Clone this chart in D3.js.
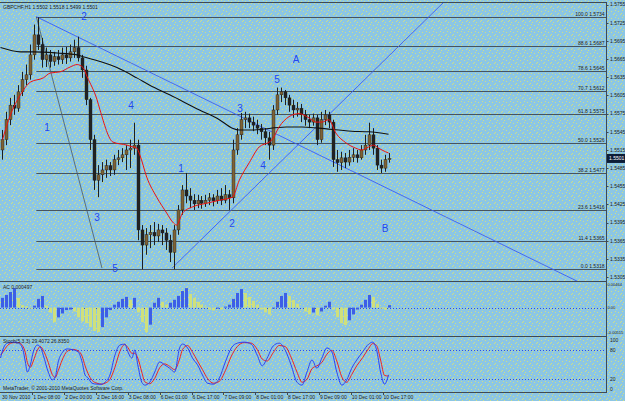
<!DOCTYPE html>
<html>
<head>
<meta charset="utf-8">
<script src="https://d3js.org/d3.v7.min.js"></script>
<style>
body { margin: 0; background: #8cc6e4; }
svg { display: block; }
text { font-family: "Liberation Sans", Arial, sans-serif; }
</style>
</head>
<body>
<div id="chart"></div>
<script>
// GBPCHF H1 - candles at 2-hour resolution
var opens = [1.5515,1.5532,1.5565,1.5589,1.5584,1.5611,1.5631,1.5639,1.5672,1.5705,
    1.5689,1.5664,1.5672,1.5661,1.5669,1.5664,1.5672,1.5667,1.5677,1.5684,
    1.5667,1.5647,1.5598,1.5532,1.5465,1.5474,1.5482,1.5489,1.5482,1.5499,
    1.5502,1.5507,1.5515,1.5518,1.5523,1.5383,1.5358,1.5375,1.5379,1.5373,
    1.5383,1.5378,1.5366,1.5346,1.5383,1.5416,1.5449,1.5439,1.5432,1.5426,
    1.5432,1.5427,1.5432,1.5436,1.5431,1.5439,1.5432,1.5441,1.5436,1.5515,
    1.5540,1.5565,1.5568,1.5561,1.5556,1.5551,1.5545,1.5535,1.5523,1.5581,
    1.5606,1.5611,1.5601,1.5589,1.5581,1.5584,1.5573,1.5565,1.5561,1.5568,
    1.5532,1.5565,1.5573,1.5561,1.5499,1.5494,1.5502,1.5495,1.5503,1.5507,
    1.5502,1.5515,1.5523,1.5540,1.5518,1.5490,1.5485,1.5499];
var highs = [1.5548,1.5578,1.5601,1.5606,1.5622,1.5644,1.5656,1.5689,1.5722,1.5734,
    1.5700,1.5684,1.5680,1.5677,1.5680,1.5684,1.5685,1.5689,1.5697,1.5702,
    1.5672,1.5654,1.5601,1.5540,1.5490,1.5495,1.5499,1.5495,1.5507,1.5515,
    1.5518,1.5523,1.5532,1.5560,1.5532,1.5391,1.5386,1.5391,1.5396,1.5393,
    1.5391,1.5386,1.5375,1.5391,1.5424,1.5457,1.5477,1.5452,1.5442,1.5441,
    1.5439,1.5441,1.5444,1.5442,1.5449,1.5452,1.5457,1.5449,1.5532,1.5551,
    1.5576,1.5578,1.5575,1.5570,1.5565,1.5558,1.5551,1.5545,1.5589,1.5618,
    1.5618,1.5614,1.5606,1.5598,1.5594,1.5591,1.5581,1.5573,1.5575,1.5573,
    1.5578,1.5581,1.5578,1.5565,1.5515,1.5512,1.5510,1.5515,1.5518,1.5515,
    1.5523,1.5540,1.5560,1.5551,1.5523,1.5499,1.5507,1.5510];
var lows = [1.5499,1.5523,1.5556,1.5573,1.5578,1.5604,1.5622,1.5631,1.5664,1.5680,
    1.5651,1.5652,1.5651,1.5654,1.5656,1.5657,1.5657,1.5661,1.5667,1.5661,
    1.5634,1.5589,1.5515,1.5449,1.5437,1.5462,1.5469,1.5472,1.5474,1.5490,
    1.5495,1.5482,1.5485,1.5507,1.5366,1.5318,1.5342,1.5353,1.5358,1.5363,
    1.5358,1.5350,1.5330,1.5318,1.5375,1.5408,1.5427,1.5419,1.5416,1.5419,
    1.5418,1.5421,1.5424,1.5422,1.5426,1.5424,1.5427,1.5416,1.5427,1.5507,
    1.5532,1.5551,1.5551,1.5546,1.5541,1.5532,1.5523,1.5499,1.5515,1.5573,
    1.5594,1.5589,1.5578,1.5568,1.5570,1.5561,1.5555,1.5551,1.5555,1.5523,
    1.5527,1.5556,1.5551,1.5487,1.5479,1.5482,1.5485,1.5489,1.5495,1.5494,
    1.5499,1.5507,1.5515,1.5507,1.5482,1.5477,1.5479,1.5494];
var closes = [1.5532,1.5565,1.5589,1.5584,1.5611,1.5631,1.5639,1.5672,1.5705,1.5689,
    1.5664,1.5672,1.5661,1.5669,1.5664,1.5672,1.5667,1.5677,1.5684,1.5667,
    1.5647,1.5598,1.5532,1.5465,1.5474,1.5482,1.5489,1.5482,1.5499,1.5502,
    1.5507,1.5515,1.5518,1.5523,1.5383,1.5358,1.5375,1.5379,1.5373,1.5383,
    1.5378,1.5366,1.5346,1.5383,1.5416,1.5449,1.5439,1.5432,1.5426,1.5432,
    1.5427,1.5432,1.5436,1.5431,1.5439,1.5432,1.5441,1.5436,1.5515,1.5540,
    1.5565,1.5568,1.5561,1.5556,1.5551,1.5545,1.5535,1.5523,1.5581,1.5606,
    1.5611,1.5601,1.5589,1.5581,1.5584,1.5573,1.5565,1.5561,1.5568,1.5532,
    1.5565,1.5573,1.5561,1.5499,1.5494,1.5502,1.5495,1.5503,1.5507,1.5502,
    1.5515,1.5523,1.5540,1.5518,1.5490,1.5485,1.5499,1.5501];

// moving averages (red fast, black slow), key points: hour index / price
var redHours = [1,5,10,15,21.5,25,30,35,38.5,41.5,43.5,48.5,50,56.5,63.5,66.5,68.5,70,73.5,78.5,
    83.5,86.5,88.5,91.5,96.5,103.5,110,116.5,120,125,130,135,136.5,140,145,150,155,158.5,161.5,165,
    168.5,173.5,178.5,181.5,185,187.5,190,193.5,195];
var redPrices = [1.5532,1.5573,1.5606,1.5627,1.5634,1.5642,1.5644,1.5652,1.5656,1.5651,
    1.5636,1.5598,1.5581,1.5528,1.5523,1.5520,1.5518,1.5507,1.5470,1.5437,
    1.5411,1.5396,1.5391,1.5411,1.5421,1.5427,1.5432,1.5437,1.5465,1.5494,
    1.5520,1.5528,1.5532,1.5553,1.5570,1.5575,1.5568,1.5561,1.5561,1.5565,
    1.5543,1.5527,1.5518,1.5515,1.5520,1.5523,1.5518,1.5512,1.5510];
var blackHours = [0,10,16.5,28.5,38.5,41.5,50,58.5,68.5,75,85,100,110,116.5,120,126.5,143.5,151.5,160,176.5,185,195];
var blackPrices = [1.5684,1.5677,1.5677,1.5675,1.5672,1.5669,1.5661,1.5651,1.5634,1.5622,1.5606,
    1.5581,1.5565,1.5551,1.5548,1.5548,1.5553,1.5553,1.5551,1.5546,1.5545,1.5541];

// fibonacci retracement
var fibLevels = ['0.0','11.4','23.6','38.2','50.0','61.8','70.7','78.6','88.6','100.0'];
var fibPrices = [1.5318,1.5365,1.5416,1.5477,1.5526,1.5575,1.5612,1.5645,1.5687,1.5734];

// wave labels
var waveText = ['2','1','4','3','5','1','2','3','4','5','A','B'];
var waveHours = [42,23.4,65.6,48.5,57.5,90.7,116.3,120.4,131.9,139,148.5,193.2];
var wavePrices = [1.5735,1.5553,1.5589,1.5403,1.5320,1.5485,1.5394,1.5584,1.5489,1.5631,1.5664,1.5386];

// Accelerator oscillator, one value per 2-hour bar
var acValues = [0.0020,0.0026,0.0032,0.0040,0.0020,0.0005,0.0003,-0.0002,0.0004,0.0018,
    0.0024,0.0004,-0.0010,-0.0030,-0.0020,-0.0012,-0.0005,-0.0004,-0.0008,-0.0020,
    -0.0028,-0.0032,-0.0040,-0.0048,-0.0050,-0.0040,-0.0020,-0.0005,0.0006,0.0012,
    0.0018,0.0022,0.0016,0.0020,-0.0010,-0.0030,-0.0050,-0.0035,0.0010,0.0020,
    0.0012,0.0006,0.0010,0.0016,0.0024,0.0034,0.0040,0.0028,0.0020,0.0012,
    0.0006,0.0002,-0.0004,-0.0006,-0.0002,-0.0004,0.0002,0.0006,0.0018,0.0030,
    0.0038,0.0030,0.0022,0.0014,0.0006,-0.0004,-0.0010,-0.0014,-0.0002,0.0012,
    0.0024,0.0030,0.0024,0.0016,0.0008,0.0000,-0.0008,-0.0014,-0.0010,-0.0016,
    -0.0008,0.0004,0.0012,-0.0004,-0.0020,-0.0032,-0.0036,-0.0026,-0.0014,-0.0004,
    0.0006,0.0016,0.0026,0.0022,0.0008,-0.0002,-0.0004,0.000497];

// stochastic key points
var stochHours = [0,1.5,3.5,6.5,9,11,12.5,13.5,15,16.5,18.5,20,21.5,24,26,27.5,29,31,33.5,36.5,
    39,41,42.5,44,46,48.5,51,52.5,55,57.5,60,62.5,64,66,67.5,69,71,72.5,75,77.5,
    80,82.5,85,87.5,90,91.5,94,96.5,99,101.5,104,107,110,113,116,119,122.5,126,129,131.5,
    134,137,140,143,146,149,151.5,154,156.5,159,161.5,164,166.5,169,171.5,174,176.5,179,182,185,
    187,189,191,193,195];
var stochMain = [64,85,95,97,95,85,56,35,50,77,91,87,70,35,19,25,56,75,83,81,
    77,56,29,23,12,10,10,14,29,70,91,93,77,64,81,50,14,8,14,35,
    56,50,43,35,85,93,85,64,50,29,12,10,23,56,85,95,97,93,70,48,
    64,89,95,81,50,14,8,35,60,43,64,85,77,35,8,19,43,60,77,93,
    97,81,35,10,29.4];
var stochSignal = [70,78,90,96,96,90,75,55,45,58,80,88,80,55,30,24,38,60,78,82,
    79,68,48,32,18,12,10,12,20,45,78,92,86,74,74,64,35,15,11,22,
    44,52,47,40,62,82,90,76,58,40,22,12,16,38,68,88,96,95,82,62,
    58,75,90,88,66,35,14,20,42,48,55,72,80,58,25,14,30,48,65,84,
    94,90,60,28,26.8];

// axis labels
var priceTicks = [1.5305,1.5335,1.5365,1.5395,1.5425,1.5455,1.5485,1.5515,1.5545,1.5575,
    1.5605,1.5635,1.5665,1.5695,1.5725,1.5755];
var timeLabels = ['30 Nov 2010','1 Dec 08:00','2 Dec 00:00','2 Dec 16:00','3 Dec 08:00','6 Dec 01:00',
    '6 Dec 17:00','7 Dec 09:00','8 Dec 01:00','8 Dec 17:00','9 Dec 09:00','10 Dec 01:00','10 Dec 17:00'];
var timeHours = [0,16,32,48,64,80,96,112,128,144,160,176,192];
var acTicks = [0.00464, 0, -0.00515];
var acTickText = ['0.00464', '0.00', '-0.00515'];
var stTicks = [100, 80, 20, 0];
var lastPrice = 1.5501;

var W = 625, H = 401;
var axisX = 606.5;
var lineCol = '#3f4a55';
var txtCol = '#1c2228';

var svg = d3.select('#chart').append('svg').attr('width', W).attr('height', H);
var defs = svg.append('defs');

// speckled background
var pat = defs.append('pattern').attr('id', 'dots')
    .attr('width', 7).attr('height', 7).attr('patternUnits', 'userSpaceOnUse');
pat.append('rect').attr('width', 7).attr('height', 7).attr('fill', '#8cc6e4');
[[0, 1], [4, 0], [2, 4], [6, 3], [5, 6]].forEach(function(p) {
    pat.append('rect').attr('x', p[0]).attr('y', p[1]).attr('width', 1).attr('height', 1).attr('fill', '#cfe085');
});
svg.append('rect').attr('width', W).attr('height', H).attr('fill', 'url(#dots)');

defs.append('clipPath').attr('id', 'clipMain').append('rect')
    .attr('x', 0).attr('y', 2.5).attr('width', axisX).attr('height', 279);
defs.append('clipPath').attr('id', 'clipAC').append('rect')
    .attr('x', 0).attr('y', 282).attr('width', axisX).attr('height', 54);
defs.append('clipPath').attr('id', 'clipSt').append('rect')
    .attr('x', 0).attr('y', 337).attr('width', axisX).attr('height', 55);

var x = d3.scaleLinear().domain([0, 100]).range([0.5, 199.5]);
var y = d3.scaleLinear().domain([1.5318, 1.5734]).range([269.3, 17.3]);
var yAC = d3.scaleLinear().domain([-0.00515, 0.00464]).range([332.7, 285]);
var yS = d3.scaleLinear().domain([0, 100]).range([389, 340.7]);

var main = svg.append('g').attr('clip-path', 'url(#clipMain)');

// fibonacci lines
var fibStart = x(18);
main.selectAll('.fib')
    .data(fibPrices)
    .enter()
    .append('line')
    .attr('x1', fibStart).attr('x2', axisX)
    .attr('y1', function(d) { return Math.round(y(d)) + 0.5; })
    .attr('y2', function(d) { return Math.round(y(d)) + 0.5; })
    .attr('stroke', '#47545f').attr('stroke-width', 1);

main.selectAll('.fibtxt')
    .data(fibPrices)
    .enter()
    .append('text')
    .attr('x', axisX - 2)
    .attr('y', function(d) { return Math.round(y(d)) - 1; })
    .attr('text-anchor', 'end')
    .attr('font-size', '5px')
    .attr('fill', txtCol)
    .text(function(d, i) { return fibLevels[i] + '  ' + d.toFixed(4); });

// bid line
main.append('line')
    .attr('x1', 0).attr('x2', axisX)
    .attr('y1', Math.round(y(lastPrice)) + 0.5).attr('y2', Math.round(y(lastPrice)) + 0.5)
    .attr('stroke', '#d6e48c').attr('stroke-width', 1).attr('stroke-dasharray', '1,2')
    .attr('opacity', 0.55);

// trend lines
main.append('line')
    .attr('x1', x(18)).attr('y1', y(1.5735)).attr('x2', x(51)).attr('y2', y(1.5320))
    .attr('stroke', '#4b5763').attr('stroke-width', 0.8);
main.append('line')
    .attr('x1', x(18)).attr('y1', y(1.5735)).attr('x2', x(290)).attr('y2', y(1.5298))
    .attr('stroke', '#3d5cf2').attr('stroke-width', 0.9);
main.append('line')
    .attr('x1', x(86.2)).attr('y1', y(1.5320)).attr('x2', x(224)).attr('y2', y(1.5763))
    .attr('stroke', '#3d5cf2').attr('stroke-width', 0.9);

// candles
var bars = d3.range(closes.length);
var cx = function(i) { return Math.round(x(2 * i + 1)) + 0.5; };
main.selectAll('.wick')
    .data(bars)
    .enter()
    .append('line')
    .attr('x1', cx).attr('x2', cx)
    .attr('y1', function(i) { return y(highs[i]); })
    .attr('y2', function(i) { return y(lows[i]); })
    .attr('stroke', '#1d1f1f').attr('stroke-width', 1);
main.selectAll('.body')
    .data(bars)
    .enter()
    .append('rect')
    .attr('x', function(i) { return cx(i) - 1.5; })
    .attr('width', 3)
    .attr('y', function(i) { return y(Math.max(opens[i], closes[i])); })
    .attr('height', function(i) { return Math.max(1, Math.abs(y(opens[i]) - y(closes[i]))); })
    .attr('fill', function(i) { return closes[i] >= opens[i] ? '#7e6236' : '#222222'; })
    .attr('stroke', '#1d1f1f').attr('stroke-width', 0.4);

// moving averages
var maLine = d3.line().curve(d3.curveMonotoneX)
    .x(function(d) { return x(d[0]); })
    .y(function(d) { return y(d[1]); });
main.append('path')
    .attr('d', maLine(d3.zip(blackHours, blackPrices)))
    .attr('fill', 'none').attr('stroke', '#111111').attr('stroke-width', 1.1);
main.append('path')
    .attr('d', maLine(d3.zip(redHours, redPrices)))
    .attr('fill', 'none').attr('stroke', '#ee1111').attr('stroke-width', 1);

// wave labels
main.selectAll('.wave')
    .data(waveText)
    .enter()
    .append('text')
    .attr('x', function(d, i) { return x(waveHours[i]); })
    .attr('y', function(d, i) { return y(wavePrices[i]); })
    .attr('dy', '0.36em')
    .attr('text-anchor', 'middle')
    .attr('font-size', '10px')
    .attr('fill', '#2446f0')
    .text(function(d) { return d; });

svg.append('text')
    .attr('x', 3).attr('y', 9)
    .attr('font-size', '5px').attr('fill', txtCol)
    .text('GBPCHF,H1  1.5502 1.5518 1.5499 1.5501');

// AC panel
var ac = svg.append('g').attr('clip-path', 'url(#clipAC)');
ac.append('line')
    .attr('x1', 0).attr('x2', axisX)
    .attr('y1', Math.round(yAC(0)) + 0.5).attr('y2', Math.round(yAC(0)) + 0.5)
    .attr('stroke', '#2f4de8').attr('stroke-dasharray', '1,2');
ac.selectAll('.acbar')
    .data(acValues)
    .enter()
    .append('rect')
    .attr('x', function(d, i) { return cx(i) - 1.5; })
    .attr('width', 3)
    .attr('y', function(d) { return Math.min(yAC(d), yAC(0)); })
    .attr('height', function(d) { return Math.abs(yAC(d) - yAC(0)); })
    .attr('fill', function(d, i) {
        return (i === 0 || d >= acValues[i - 1]) ? '#3d5ee6' : '#cfe07c';
    });
svg.append('text')
    .attr('x', 3).attr('y', 288.5)
    .attr('font-size', '5px').attr('fill', txtCol)
    .text('AC 0.000497');

// stochastic panel
var st = svg.append('g').attr('clip-path', 'url(#clipSt)');
[80, 20].forEach(function(v) {
    st.append('line')
        .attr('x1', 0).attr('x2', axisX)
        .attr('y1', Math.round(yS(v)) + 0.5).attr('y2', Math.round(yS(v)) + 0.5)
        .attr('stroke', '#2f4de8').attr('stroke-dasharray', '1,2');
});
var stLine = d3.line().curve(d3.curveMonotoneX)
    .x(function(d) { return x(d[0]); })
    .y(function(d) { return yS(d[1]); });
st.append('path')
    .attr('d', stLine(d3.zip(stochHours, stochSignal)))
    .attr('fill', 'none').attr('stroke', '#f02020').attr('stroke-width', 1);
st.append('path')
    .attr('d', stLine(d3.zip(stochHours, stochMain)))
    .attr('fill', 'none').attr('stroke', '#2a40f5').attr('stroke-width', 1);
svg.append('text')
    .attr('x', 3).attr('y', 342.5)
    .attr('font-size', '5px').attr('fill', txtCol)
    .text('Stoch(5,3,3) 29.4072 26.8350');
svg.append('text')
    .attr('x', 3).attr('y', 389.5)
    .attr('font-size', '5px').attr('fill', txtCol)
    .text('MetaTrader, \u00a9 2001-2010 MetaQuotes Software Corp.');

// frame lines
[2.5, 281.5, 336.5, 392.5].forEach(function(v) {
    svg.append('line')
        .attr('x1', 0).attr('x2', axisX).attr('y1', v).attr('y2', v)
        .attr('stroke', lineCol).attr('stroke-width', 1);
});
svg.append('line')
    .attr('x1', axisX).attr('x2', axisX).attr('y1', 2).attr('y2', 393)
    .attr('stroke', lineCol).attr('stroke-width', 1);

// price scale
var pg = svg.append('g');
pg.selectAll('.ptick')
    .data(priceTicks)
    .enter()
    .append('line')
    .attr('x1', axisX).attr('x2', axisX + 2)
    .attr('y1', function(d) { return Math.round(y(d)) + 0.5; })
    .attr('y2', function(d) { return Math.round(y(d)) + 0.5; })
    .attr('stroke', lineCol);
pg.selectAll('.ptxt')
    .data(priceTicks)
    .enter()
    .append('text')
    .attr('x', 610)
    .attr('y', function(d) { return y(d); })
    .attr('dy', '0.35em')
    .attr('font-size', '5px').attr('fill', txtCol)
    .text(function(d) { return d.toFixed(4); });

var py = y(lastPrice);
svg.append('rect')
    .attr('x', 607).attr('y', py - 4.5).attr('width', 18).attr('height', 9)
    .attr('fill', '#0c1d38');
svg.append('text')
    .attr('x', 609).attr('y', py).attr('dy', '0.35em')
    .attr('font-size', '5px').attr('fill', '#ffffff')
    .text(lastPrice.toFixed(4));

// indicator scales
svg.selectAll('.actxt')
    .data(acTicks)
    .enter()
    .append('text')
    .attr('x', 607.5)
    .attr('y', function(d) { return yAC(d); })
    .attr('dy', '0.35em')
    .attr('font-size', '4px').attr('fill', txtCol)
    .text(function(d, i) { return acTickText[i]; });
svg.selectAll('.sttxt')
    .data(stTicks)
    .enter()
    .append('text')
    .attr('x', 610)
    .attr('y', function(d) { return yS(d); })
    .attr('dy', '0.35em')
    .attr('font-size', '5px').attr('fill', txtCol)
    .text(function(d) { return d; });

// time scale
svg.selectAll('.ttick')
    .data(timeHours.slice(1))
    .enter()
    .append('line')
    .attr('x1', function(d) { return Math.round(x(d)) + 0.5; })
    .attr('x2', function(d) { return Math.round(x(d)) + 0.5; })
    .attr('y1', 392.5).attr('y2', 395)
    .attr('stroke', lineCol);
svg.selectAll('.ttxt')
    .data(timeLabels)
    .enter()
    .append('text')
    .attr('x', function(d, i) { return i === 0 ? 2 : x(timeHours[i]) + 1; })
    .attr('y', 399)
    .attr('font-size', '5px').attr('fill', txtCol)
    .text(function(d) { return d; });
</script>
</body>
</html>
